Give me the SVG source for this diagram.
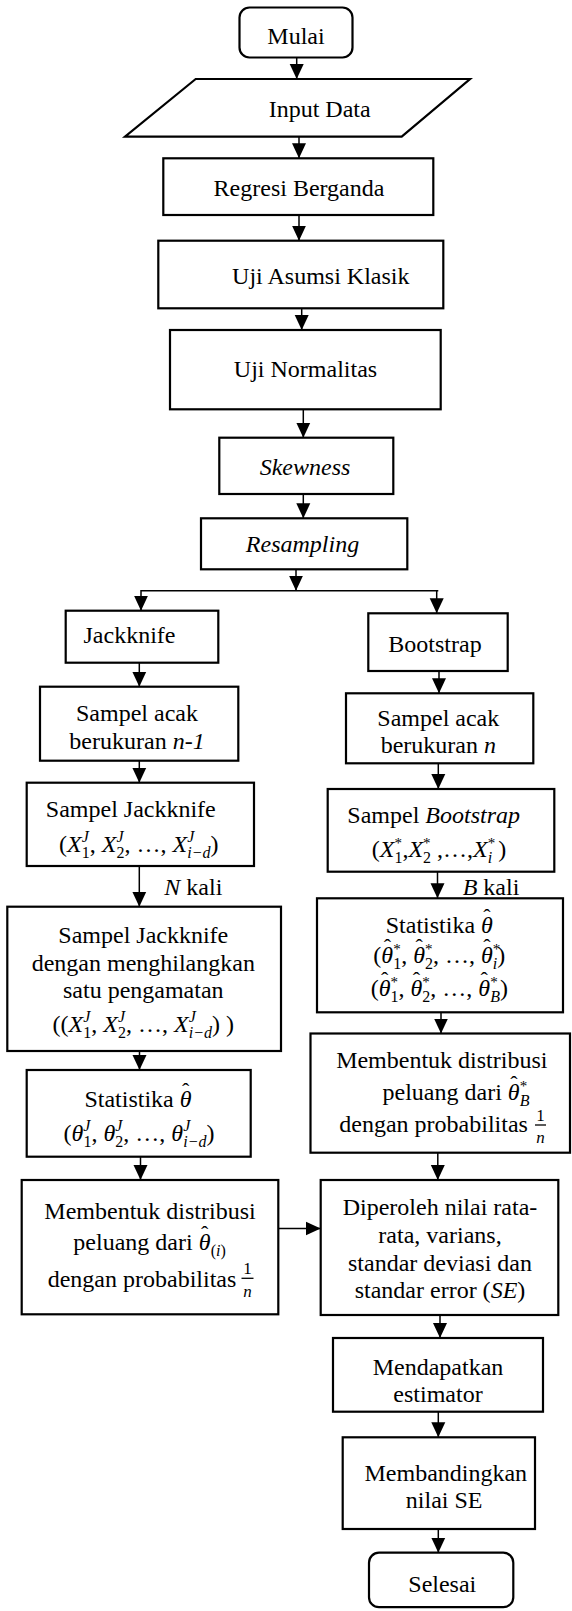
<svg xmlns="http://www.w3.org/2000/svg" width="572" height="1611" viewBox="0 0 572 1611" font-family="Liberation Serif, Times New Roman, serif">
<style>
.box{fill:#fff;stroke:#000;stroke-width:2.2}
.ln{fill:none;stroke:#000;stroke-width:1.5}
text{font-family:"Liberation Serif","Times New Roman",serif;font-size:24px;fill:#000}
.c{text-anchor:middle}
.i{font-style:italic}
.s{font-size:16px}
.st{font-size:15px;font-style:normal}
.h{font-size:22px;font-style:normal}
.f{font-size:17px;text-anchor:middle}
</style>
<defs>
<marker id="ah" markerUnits="userSpaceOnUse" markerWidth="16" markerHeight="16" viewBox="0 0 16 16" refX="15" refY="7.5" orient="auto"><path d="M0,0.5 L15,7.5 L0,14.5 z" fill="#000"/></marker>
</defs>

<g id="connectors">
<path class="ln" marker-end="url(#ah)" d="M296.7,57.3 V79"/>
<path class="ln" marker-end="url(#ah)" d="M299,136.7 V158.3"/>
<path class="ln" marker-end="url(#ah)" d="M299,215 V240.7"/>
<path class="ln" marker-end="url(#ah)" d="M301.7,308.3 V330"/>
<path class="ln" marker-end="url(#ah)" d="M303.3,409.3 V437.7"/>
<path class="ln" marker-end="url(#ah)" d="M303.3,494 V518.3"/>
<path class="ln" marker-end="url(#ah)" d="M296,569.3 V590.7"/>
<path class="ln" marker-end="url(#ah)" d="M438.3,590.7 H141 V610.7"/>
<path class="ln" marker-end="url(#ah)" d="M436.7,590.7 V613.3"/>
<path class="ln" marker-end="url(#ah)" d="M139.3,662.7 V686.7"/>
<path class="ln" marker-end="url(#ah)" d="M439,671 V693.3"/>
<path class="ln" marker-end="url(#ah)" d="M139.3,760.7 V782.7"/>
<path class="ln" marker-end="url(#ah)" d="M438.3,763.3 V789"/>
<path class="ln" marker-end="url(#ah)" d="M139.3,866 V906.7"/>
<path class="ln" marker-end="url(#ah)" d="M437.5,871.7 V898.3"/>
<path class="ln" marker-end="url(#ah)" d="M139.5,1051 V1070"/>
<path class="ln" marker-end="url(#ah)" d="M441,1012.3 V1033.5"/>
<path class="ln" marker-end="url(#ah)" d="M140.5,1156.7 V1180"/>
<path class="ln" marker-end="url(#ah)" d="M437.8,1152.7 V1180"/>
<path class="ln" marker-end="url(#ah)" d="M278.3,1228.5 H320.7"/>
<path class="ln" marker-end="url(#ah)" d="M440,1315 V1338"/>
<path class="ln" marker-end="url(#ah)" d="M438.3,1411.7 V1437.3"/>
<path class="ln" marker-end="url(#ah)" d="M438.3,1529 V1552.7"/>
<text x="164.3" y="895"><tspan class="i">N</tspan> kali</text>
<text x="462.7" y="895"><tspan class="i">B</tspan> kali</text>
</g>

<g id="mulai"><rect class="box" x="239.5" y="7.5" width="113" height="50" rx="10"/><text class="c" x="296" y="44">Mulai</text></g>
<g id="input"><polygon class="box" points="195.7,79 470,79 401.7,136.7 125,136.7"/><text class="c" x="319.7" y="117">Input Data</text></g>
<g id="regresi"><rect class="box" x="163.3" y="158.3" width="270" height="56.7"/><text class="c" x="299" y="195.7">Regresi Berganda</text></g>
<g id="asumsi"><rect class="box" x="158.3" y="240.7" width="285" height="67.6"/><text class="c" x="320.8" y="284">Uji Asumsi Klasik</text></g>
<g id="normalitas"><rect class="box" x="170" y="330" width="270.7" height="79.3"/><text class="c" x="305.5" y="377.3">Uji Normalitas</text></g>
<g id="skewness"><rect class="box" x="219.3" y="437.7" width="174" height="56.3"/><text class="c i" x="305" y="475">Skewness</text></g>
<g id="resampling"><rect class="box" x="201" y="518.3" width="206.3" height="51"/><text class="c i" x="302.5" y="551.7">Resampling</text></g>

<g id="jackknife"><rect class="box" x="65.7" y="610.7" width="152.6" height="52"/><text class="c" x="129.5" y="643.3">Jackknife</text></g>
<g id="bootstrap"><rect class="box" x="368.3" y="613.3" width="139.4" height="57.7"/><text class="c" x="435" y="651.7">Bootstrap</text></g>

<g id="acak-l"><rect class="box" x="40" y="686.7" width="198.3" height="74"/>
<text class="c" x="137" y="720.7">Sampel acak</text>
<text class="c" x="137" y="749.3">berukuran <tspan class="i">n-1</tspan></text></g>
<g id="acak-r"><rect class="box" x="346" y="693.3" width="187.3" height="70"/>
<text class="c" x="438.3" y="726">Sampel acak</text>
<text class="c" x="438.3" y="753.3">berukuran <tspan class="i">n</tspan></text></g>

<g id="sampel-jk"><rect class="box" x="26.7" y="782.7" width="227.3" height="83.3"/>
<text class="c" x="130.8" y="817.3">Sampel Jackknife</text>
<text class="c" x="138.8" y="852">(<tspan class="i">X</tspan><tspan class="i s" dy="-10">J</tspan><tspan class="s" dx="-7" dy="16">1</tspan><tspan dy="-6">, </tspan><tspan class="i">X</tspan><tspan class="i s" dy="-10">J</tspan><tspan class="s" dx="-7" dy="16">2</tspan><tspan dy="-6">, …, </tspan><tspan class="i">X</tspan><tspan class="i s" dy="-10">J</tspan><tspan class="i s" dx="-7" dy="16">i−d</tspan><tspan dy="-6">)</tspan></text></g>

<g id="sampel-bs"><rect class="box" x="327.7" y="789" width="226.6" height="82.7"/>
<text class="c" x="433.7" y="823.3">Sampel <tspan class="i">Bootstrap</tspan></text>
<text class="c" x="439" y="857">(<tspan class="i">X</tspan><tspan class="st" dy="-9">*</tspan><tspan class="s" dx="-7.5" dy="15">1</tspan><tspan dy="-6">,</tspan><tspan class="i">X</tspan><tspan class="st" dy="-9">*</tspan><tspan class="s" dx="-7.5" dy="15">2</tspan><tspan dy="-6"> ,…,</tspan><tspan class="i">X</tspan><tspan class="st" dy="-9">*</tspan><tspan class="i s" dx="-7.5" dy="15">i</tspan><tspan dy="-6"> )</tspan></text></g>

<g id="hilang"><rect class="box" x="7.3" y="906.7" width="273.7" height="144.3"/>
<text class="c" x="143.3" y="943.3">Sampel Jackknife</text>
<text class="c" x="143.3" y="970.7">dengan menghilangkan</text>
<text class="c" x="143.3" y="998.3">satu pengamatan</text>
<text class="c" x="143.3" y="1031.7">((<tspan class="i">X</tspan><tspan class="i s" dy="-10">J</tspan><tspan class="s" dx="-7" dy="16">1</tspan><tspan dy="-6">, </tspan><tspan class="i">X</tspan><tspan class="i s" dy="-10">J</tspan><tspan class="s" dx="-7" dy="16">2</tspan><tspan dy="-6">, …, </tspan><tspan class="i">X</tspan><tspan class="i s" dy="-10">J</tspan><tspan class="i s" dx="-7" dy="16">i−d</tspan><tspan dy="-6">) )</tspan></text></g>

<g id="stat-r"><rect class="box" x="317" y="898.3" width="246" height="114"/>
<text class="c" x="439.3" y="933.3">Statistika <tspan class="i">θ</tspan><tspan class="h" dx="-9.5" dy="-9">ˆ</tspan></text>
<text class="c" x="439.3" y="963">(<tspan class="i">θ</tspan><tspan class="h" dx="-9.5" dy="-9">ˆ</tspan><tspan class="st" dx="2.2" dy="0">*</tspan><tspan class="s" dx="-7.5" dy="15">1</tspan><tspan dy="-6">, </tspan><tspan class="i">θ</tspan><tspan class="h" dx="-9.5" dy="-9">ˆ</tspan><tspan class="st" dx="2.2" dy="0">*</tspan><tspan class="s" dx="-7.5" dy="15">2</tspan><tspan dy="-6">, …, </tspan><tspan class="i">θ</tspan><tspan class="h" dx="-9.5" dy="-9">ˆ</tspan><tspan class="st" dx="2.2" dy="0">*</tspan><tspan class="i s" dx="-7.5" dy="15">i</tspan><tspan dy="-6">)</tspan></text>
<text class="c" x="439.3" y="996">(<tspan class="i">θ</tspan><tspan class="h" dx="-9.5" dy="-9">ˆ</tspan><tspan class="st" dx="2.2" dy="0">*</tspan><tspan class="s" dx="-7.5" dy="15">1</tspan><tspan dy="-6">, </tspan><tspan class="i">θ</tspan><tspan class="h" dx="-9.5" dy="-9">ˆ</tspan><tspan class="st" dx="2.2" dy="0">*</tspan><tspan class="s" dx="-7.5" dy="15">2</tspan><tspan dy="-6">, …, </tspan><tspan class="i">θ</tspan><tspan class="h" dx="-9.5" dy="-9">ˆ</tspan><tspan class="st" dx="2.2" dy="0">*</tspan><tspan class="i s" dx="-7.5" dy="15">B</tspan><tspan dy="-6">)</tspan></text></g>

<g id="stat-l"><rect class="box" x="26.7" y="1070" width="224" height="86.7"/>
<text class="c" x="138" y="1106.7">Statistika <tspan class="i">θ</tspan><tspan class="h" dx="-9.5" dy="-9">ˆ</tspan></text>
<text class="c" x="139" y="1141">(<tspan class="i">θ</tspan><tspan class="i s" dy="-10">J</tspan><tspan class="s" dx="-7" dy="16">1</tspan><tspan dy="-6">, </tspan><tspan class="i">θ</tspan><tspan class="i s" dy="-10">J</tspan><tspan class="s" dx="-7" dy="16">2</tspan><tspan dy="-6">, …, </tspan><tspan class="i">θ</tspan><tspan class="i s" dy="-10">J</tspan><tspan class="i s" dx="-7" dy="16">i−d</tspan><tspan dy="-6">)</tspan></text></g>

<g id="dist-r"><rect class="box" x="310.5" y="1033.5" width="259.5" height="119.2"/>
<text class="c" x="441.8" y="1068.3">Membentuk distribusi</text>
<text class="c" x="456" y="1100">peluang dari <tspan class="i">θ</tspan><tspan class="h" dx="-9.5" dy="-9">ˆ</tspan><tspan class="st" dx="2.2" dy="0">*</tspan><tspan class="i s" dx="-7.5" dy="15">B</tspan></text>
<text x="339.3" y="1131.7">dengan probabilitas</text>
<text class="f" x="540.5" y="1121">1</text>
<path d="M535,1125 H546" stroke="#000" stroke-width="1.3"/>
<text class="f i" x="540.5" y="1143">n</text></g>

<g id="dist-l"><rect class="box" x="21.7" y="1180" width="256.6" height="134.3"/>
<text class="c" x="150" y="1219.3">Membentuk distribusi</text>
<text class="c" x="149.6" y="1250">peluang dari <tspan class="i">θ</tspan><tspan class="h" dx="-9.5" dy="-9">ˆ</tspan><tspan class="s" dx="2.5" dy="15">(</tspan><tspan class="i s">i</tspan><tspan class="s">)</tspan></text>
<text x="47.7" y="1286.7">dengan probabilitas</text>
<text class="f" x="247.5" y="1274">1</text>
<path d="M241.5,1278.3 H253.5" stroke="#000" stroke-width="1.3"/>
<text class="f i" x="247.5" y="1297">n</text></g>

<g id="diperoleh"><rect class="box" x="320.7" y="1180" width="237.6" height="135"/>
<text class="c" x="440" y="1215">Diperoleh nilai rata-</text>
<text class="c" x="440" y="1242.7">rata, varians,</text>
<text class="c" x="440" y="1271">standar deviasi dan</text>
<text class="c" x="440" y="1298.3">standar error (<tspan class="i">SE</tspan>)</text></g>

<g id="estimator"><rect class="box" x="333" y="1338" width="210" height="73.7"/>
<text class="c" x="438" y="1375">Mendapatkan</text>
<text class="c" x="438" y="1401.7">estimator</text></g>

<g id="bandingkan"><rect class="box" x="342.7" y="1437.3" width="192.3" height="91.7"/>
<text class="c" x="445.8" y="1480.7">Membandingkan</text>
<text class="c" x="444.2" y="1508.3">nilai SE</text></g>

<g id="selesai"><rect class="box" x="369" y="1552.7" width="144.3" height="54.5" rx="10"/><text class="c" x="442.3" y="1591.7">Selesai</text></g>
</svg>
